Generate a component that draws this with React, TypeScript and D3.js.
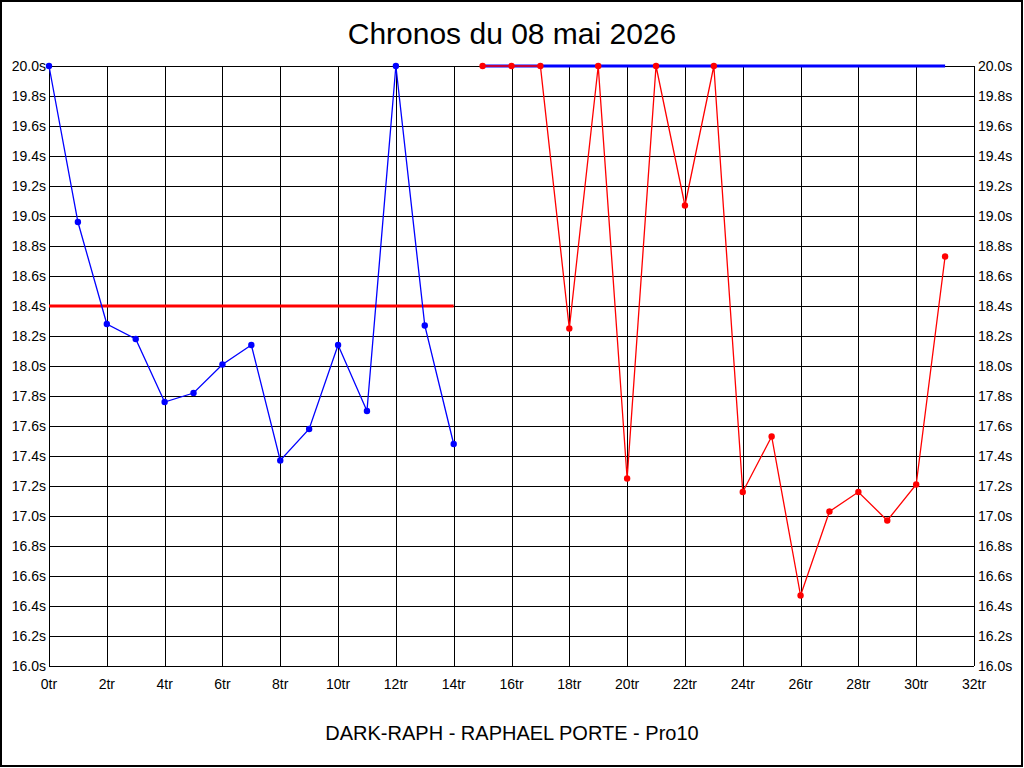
import React from "react";
import * as d3 from "d3";

const title = "Chronos du 08 mai 2026";
const subtitle = "DARK-RAPH - RAPHAEL PORTE - Pro10";

const blueLaps = [0, 1, 2, 3, 4, 5, 6, 7, 8, 9, 10, 11, 12, 13, 14];
const blueTimes = [20.0, 18.96, 18.28, 18.18, 17.76, 17.82, 18.01, 18.14, 17.37, 17.58, 18.14, 17.7, 20.0, 18.27, 17.48];

const redLaps = [15, 16, 17, 18, 19, 20, 21, 22, 23, 24, 25, 26, 27, 28, 29, 30, 31];
const redTimes = [20.0, 20.0, 20.0, 18.25, 20.0, 17.25, 20.0, 19.07, 20.0, 17.16, 17.53, 16.47, 17.03, 17.16, 16.97, 17.21, 18.73];

// reference lines: [startLap, endLap, value]
const redRef = [0, 14, 18.4];
const blueRef = [15, 31, 20.0];

const xTicks = d3.range(0, 33, 2);
const yTicks = d3.range(0, 21).map((i) => 16 + i * 0.2);

export default function App() {
  const W = 1024;
  const H = 768;
  const x = d3.scaleLinear().domain([0, 32]).range([49, 974]);
  const y = d3.scaleLinear().domain([16, 20]).range([666, 66]);
  const font = "'Liberation Sans', Arial, sans-serif";

  const line = d3
    .line<[number, number]>()
    .x((d) => x(d[0]))
    .y((d) => y(d[1]));

  const bluePts: [number, number][] = blueLaps.map((l, i) => [l, blueTimes[i]]);
  const redPts: [number, number][] = redLaps.map((l, i) => [l, redTimes[i]]);

  const crisp = (v: number) => Math.round(v) + 0.5;

  return (
    <svg
      width={W}
      height={H}
      style={{ position: "absolute", left: 0, top: 0, background: "#fff" }}
      fontFamily={font}
    >
      <rect x={0} y={0} width={W} height={H} fill="#fff" />
      <rect x={1} y={1} width={1021} height={765} fill="none" stroke="#000" strokeWidth={2} />

      <text x={512} y={44} textAnchor="middle" fontSize={30} fill="#000">
        {title}
      </text>

      {/* grid */}
      {yTicks.map((t, i) => (
        <line key={"h" + i} x1={x(0)} x2={x(32)} y1={crisp(y(t))} y2={crisp(y(t))} stroke="#000" strokeWidth={1} />
      ))}
      {xTicks.map((t) => (
        <line key={"v" + t} x1={crisp(x(t))} x2={crisp(x(t))} y1={y(20)} y2={y(16)} stroke="#000" strokeWidth={1} />
      ))}

      {/* y labels */}
      {yTicks.map((t, i) => (
        <text key={"yl" + i} x={46} y={y(t)} dy="0.36em" textAnchor="end" fontSize={14} fill="#000">
          {t.toFixed(1) + "s"}
        </text>
      ))}
      {yTicks.map((t, i) => (
        <text key={"yr" + i} x={978} y={y(t)} dy="0.36em" textAnchor="start" fontSize={14} fill="#000">
          {t.toFixed(1) + "s"}
        </text>
      ))}
      {xTicks.map((t) => (
        <text key={"xl" + t} x={x(t)} y={689} textAnchor="middle" fontSize={14} fill="#000">
          {t + "tr"}
        </text>
      ))}

      {/* reference lines */}
      <line x1={x(redRef[0])} x2={x(redRef[1])} y1={y(redRef[2])} y2={y(redRef[2])} stroke="#ff0000" strokeWidth={3} />
      <line x1={x(blueRef[0])} x2={x(blueRef[1])} y1={y(blueRef[2])} y2={y(blueRef[2])} stroke="#0000ff" strokeWidth={3} />

      {/* series */}
      <path d={line(bluePts) || ""} fill="none" stroke="#0000ff" strokeWidth={1.3} />
      {bluePts.map((p, i) => (
        <circle key={"b" + i} cx={x(p[0])} cy={y(p[1])} r={3.2} fill="#0000ff" />
      ))}
      <path d={line(redPts) || ""} fill="none" stroke="#ff0000" strokeWidth={1.3} />
      {redPts.map((p, i) => (
        <circle key={"r" + i} cx={x(p[0])} cy={y(p[1])} r={3.2} fill="#ff0000" />
      ))}

      <text x={512} y={740} textAnchor="middle" fontSize={20} fill="#000">
        {subtitle}
      </text>
    </svg>
  );
}
